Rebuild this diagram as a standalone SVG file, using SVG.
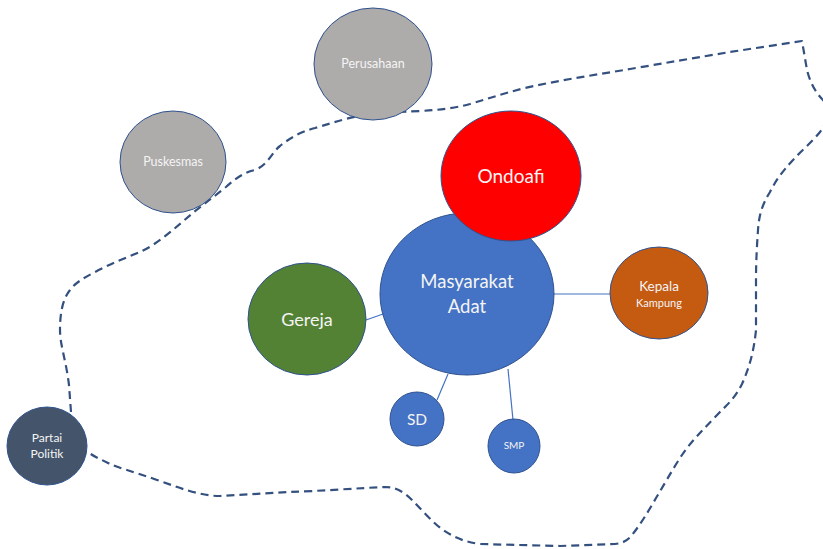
<svg xmlns="http://www.w3.org/2000/svg" width="823" height="549" viewBox="0 0 823 549">
<style>
.node{stroke:#2f528f;stroke-width:1}
.lbl{font-family:Lato,"Liberation Sans",sans-serif;fill:#f4f4f4;text-anchor:middle}
.conn{stroke:#4472c4;stroke-width:1.2;fill:none}
.boundary{fill:none;stroke:#34507f;stroke-width:2.2;stroke-dasharray:8 5;stroke-linejoin:round;stroke-linecap:butt}
</style>
<rect width="823" height="549" fill="#ffffff"/>
<g id="boundary">
<path class="boundary" d="M71,412 L69,385 C66,360 60,345 60,330 C60,315 62,300 70,290 C76,282 84,278 95,272 C110,264 125,258 140,252 C160,243 178,225 194,212 C205,203 215,196 226,187 C236,178 245,172 255,170 C268,165 272,152 280,146 C290,138 300,132 315,128 C335,122 350,117 365,115 C385,112 400,112 420,111 C440,110 455,108 470,104 C490,98 505,93 525,88 C560,80 595,75 630,69 C665,63 700,57 730,52 L802,41 L807,70 C810,82 815,92 823,100 C830,108 828,122 820,132 C812,142 800,152 793,160 C782,172 776,180 770,192 C762,205 759,215 758,230 C757,245 756,260 756,280 L756,330 C754,350 750,366 742,384 C735,398 727,405 719,413 C705,428 692,440 682,455 C672,470 664,485 656,498 C648,512 640,525 632,535 C628,540 624,543 615,544 L560,546 L480,544 C465,542 455,538 443,530 C432,522 422,510 412,500 C404,492 396,487 385,487 C360,488 320,491 290,492 L220,496 C200,496 180,488 157,480 C135,472 118,468 108,463 C98,458 93,456 88,452"/>
</g>
<g id="connectors">
<line class="conn" x1="554" y1="294" x2="610" y2="294"/>
<line class="conn" x1="366" y1="320" x2="383" y2="314"/>
<line class="conn" x1="437" y1="400" x2="448" y2="374"/>
<line class="conn" x1="508" y1="369" x2="513" y2="420"/>
</g>
<g id="perusahaan">
<ellipse class="node" cx="373" cy="64" rx="59" ry="56" fill="#aeabab"/>
<text class="lbl" x="373" y="68" font-size="12.5">Perusahaan</text>
</g>
<g id="puskesmas">
<ellipse class="node" cx="173" cy="162" rx="53" ry="51" fill="#aeabab"/>
<text class="lbl" x="173" y="166" font-size="12.5">Puskesmas</text>
</g>
<g id="masyarakat-adat">
<ellipse class="node" cx="467" cy="294" rx="87" ry="81" fill="#4472c4"/>
<text class="lbl" x="467" y="288" font-size="18.5">Masyarakat</text>
<text class="lbl" x="467" y="313" font-size="18.5">Adat</text>
</g>
<g id="ondoafi">
<ellipse class="node" cx="511" cy="176" rx="70" ry="65" fill="#ff0000"/>
<text class="lbl" x="511" y="183" font-size="19">Ondoafi</text>
</g>
<g id="gereja">
<ellipse class="node" cx="307" cy="319" rx="59" ry="56" fill="#548235"/>
<text class="lbl" x="307" y="326" font-size="18">Gereja</text>
</g>
<g id="kepala-kampung">
<ellipse class="node" cx="659" cy="293" rx="49" ry="46" fill="#c55a11"/>
<text class="lbl" x="659" y="291" font-size="13.5">Kepala</text>
<text class="lbl" x="659" y="307" font-size="11">Kampung</text>
</g>
<g id="sd">
<ellipse class="node" cx="417" cy="419" rx="27" ry="27" fill="#4472c4"/>
<text class="lbl" x="417" y="425" font-size="15.5">SD</text>
</g>
<g id="smp">
<ellipse class="node" cx="514" cy="446" rx="26" ry="27" fill="#4472c4"/>
<text class="lbl" x="514" y="449" font-size="10">SMP</text>
</g>
<g id="partai-politik">
<ellipse class="node" cx="47" cy="446" rx="40" ry="39" fill="#44546a"/>
<text class="lbl" x="47" y="442" font-size="12">Partai</text>
<text class="lbl" x="47" y="458" font-size="12">Politik</text>
</g>
</svg>
